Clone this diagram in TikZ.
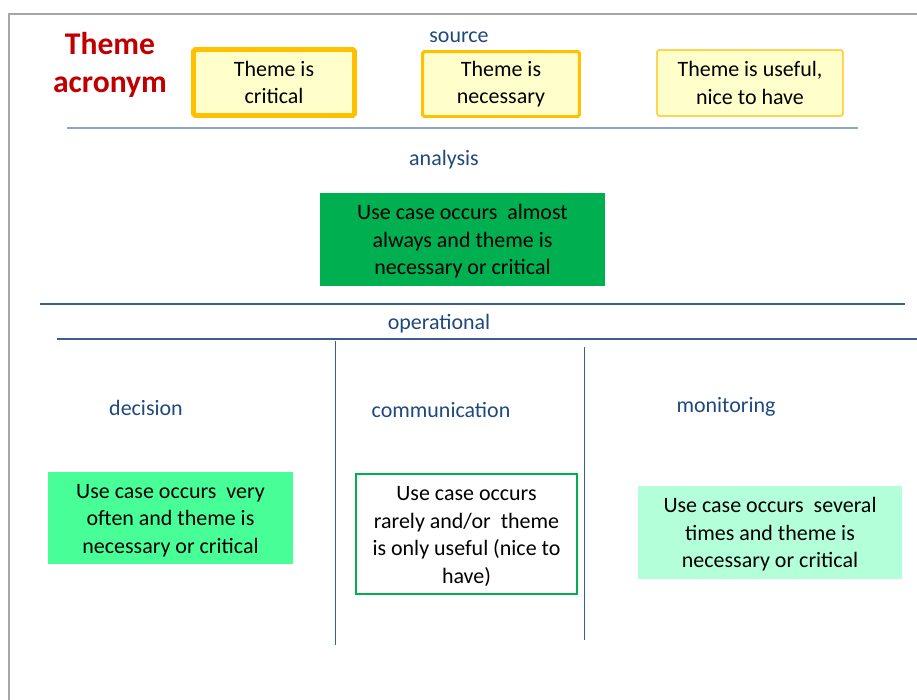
\documentclass[tikz,border=0pt]{standalone}
\usepackage{fontspec}
\setmainfont{Carlito}
\usetikzlibrary{positioning}
\definecolor{themered}{HTML}{C00000}
\definecolor{levelblue}{HTML}{1F497D}
\definecolor{boxyellow}{HTML}{FFFFCC}
\definecolor{boxorange}{HTML}{FFC000}
\definecolor{darkgreen}{HTML}{00B050}
\definecolor{brightgreen}{HTML}{47FF96}
\definecolor{palegreen}{HTML}{B3FFD9}
\definecolor{framegray}{HTML}{A6A6A6}
\definecolor{rulelight}{HTML}{8EA6C6}
\definecolor{ruledark}{HTML}{3A5F8F}
\tikzset{
  level/.style={text=levelblue, font=\fontsize{12.5}{15}\selectfont},
  usecase/.style={align=center, inner sep=0pt, font=\fontsize{12.5}{15.6}\selectfont},
  theme/.style={usecase, fill=boxyellow, draw=boxorange, rounded corners=1pt},
}

\begin{document}
\begin{tikzpicture}[x=0.02cm, y=-0.02cm]
  \useasboundingbox (0,0) rectangle (917,700);
  % frame
  \draw [framegray, line width=1.2pt] (9,700) -- (9,14) -- (917,14);

  % source
  \node [text=themered, align=center, font=\bfseries\fontsize{18}{21.5}\selectfont] (Acronym) at (110,65) {Theme\\acronym};
  \node [level] (Source) at (459,37) {source};
  \node [theme, line width=2.8pt, minimum width=3.22cm, minimum height=1.32cm] (SrcCritical) at (274,82.5) {Theme is\\critical};
  \node [theme, line width=1.7pt, minimum width=3.14cm, minimum height=1.30cm] (SrcNecessary) at (501,84) {Theme is\\necessary};
  \node [theme, line width=0.6pt, minimum width=3.72cm, minimum height=1.32cm] (SrcUseful) at (750,83) {Theme is useful,\\nice to have};
  \draw [rulelight, line width=1.1pt] (67,128) -- (858,128);

  % analysis
  \node [level] (Analysis) at (444,160) {analysis};
  \node [usecase, fill=darkgreen, minimum width=5.70cm, minimum height=1.86cm] (AnaCase) at (462.5,239.5)
    {\strut Use case occurs\ \ almost\\always and theme is\\necessary or critical};
  \draw [ruledark, line width=0.8pt] (40,304) -- (905,304);

  % operational
  \node [level] (Operational) at (439,324) {operational};
  \draw [ruledark, line width=0.8pt] (57,339) -- (917,339);
  \draw [ruledark, line width=0.5pt] (335,341) -- (335,645);
  \draw [ruledark, line width=0.5pt] (584,347) -- (584,640);

  \node [level] (Decision) at (146,408) {decision};
  \node [level] (Communication) at (441,410) {communication};
  \node [level] (Monitoring) at (726,407) {monitoring};

  \node [usecase, fill=brightgreen, minimum width=4.90cm, minimum height=1.84cm] (DecCase) at (170.5,518)
    {\strut Use case occurs\ \ very\\often and theme is\\necessary or critical};
  \node [usecase, draw=darkgreen, line width=1.2pt, minimum width=4.42cm, minimum height=2.40cm] (ComCase) at (466.5,534)
    {\strut Use case occurs\\rarely and/or\ \ theme\\is only useful (nice to\\have)};
  \node [usecase, fill=palegreen, minimum width=5.28cm, minimum height=1.86cm] (MonCase) at (770,532.5)
    {\strut Use case occurs\ \ several\\times and theme is\\necessary or critical};
\end{tikzpicture}
\end{document}
